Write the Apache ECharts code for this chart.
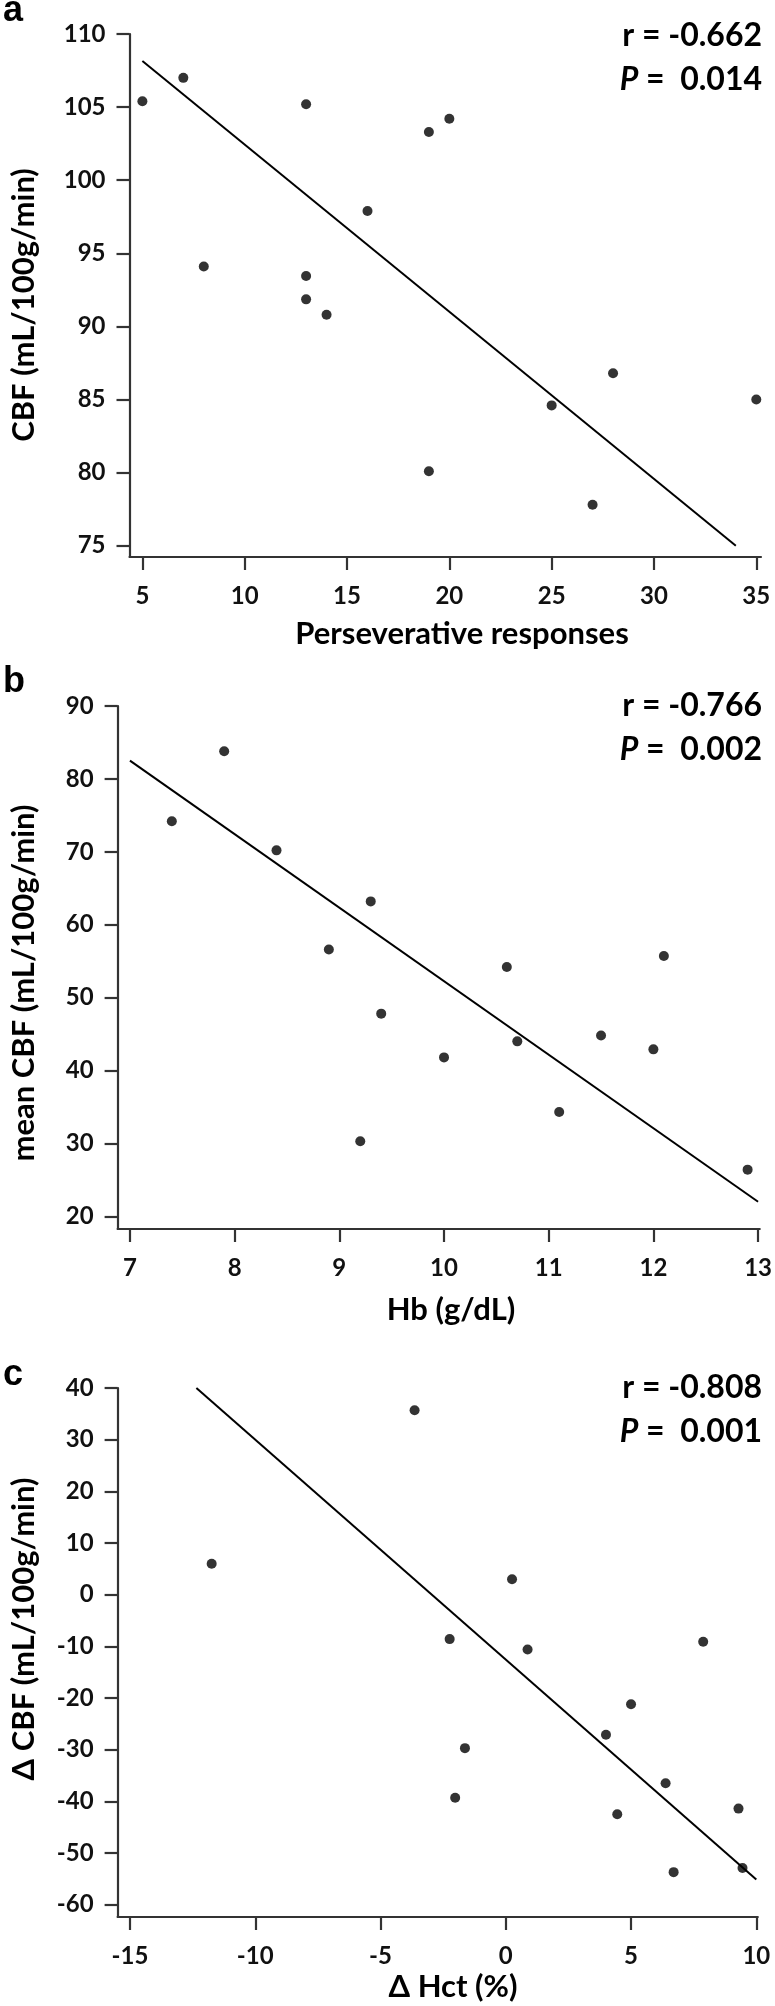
<!DOCTYPE html>
<html>
<head>
<meta charset="utf-8">
<script src="https://cdn.jsdelivr.net/npm/echarts@6/dist/echarts.min.js"></script>
<style>
html,body{margin:0;padding:0;background:#fff;}
#chart{width:775px;height:2006px;}
</style>
</head>
<body>
<div id="chart"></div>
<script>
// Panel a: Perseverative responses vs CBF
const xA = [5, 7, 8, 13, 13, 13, 14, 16, 19, 20, 25, 28, 35, 19, 27];
const yA = [105.4, 107.0, 94.1, 105.2, 93.45, 91.85, 90.8, 97.9, 103.3, 104.2, 84.6, 86.8, 85.0, 80.1, 77.8];
const fitXA = [5, 34];
const fitYA = [108.15, 75.0];
const ticksXA = [5, 10, 15, 20, 25, 30, 35];
const ticksYA = [75, 80, 85, 90, 95, 100, 105, 110];

// Panel b: Hb vs mean CBF
const xB = [7.4, 7.9, 8.4, 8.9, 9.3, 9.4, 10.0, 10.6, 10.7, 11.5, 12.0, 12.1, 9.2, 11.1, 12.9];
const yB = [74.2, 83.8, 70.2, 56.6, 63.2, 47.8, 41.8, 54.2, 44.0, 44.8, 42.9, 55.7, 30.3, 34.3, 26.4];
const fitXB = [7, 13];
const fitYB = [82.5, 22.0];
const ticksXB = [7, 8, 9, 10, 11, 12, 13];
const ticksYB = [20, 30, 40, 50, 60, 70, 80, 90];

// Panel c: Δ Hct vs Δ CBF
const xC = [-11.74, -3.64, 0.25, -2.24, 0.87, 7.88, 5.0, 4.0, -1.63, -2.02, 6.38, 4.45, 9.29, 6.70, 9.45];
const yC = [6.0, 35.7, 3.0, -8.6, -10.6, -9.1, -21.2, -27.1, -29.7, -39.3, -36.5, -42.5, -41.4, -53.7, -52.9];
const fitXC = [-12.35, 10.0];
const fitYC = [40, -55.1];
const ticksXC = [-15, -10, -5, 0, 5, 10];
const ticksYC = [-60, -50, -40, -30, -20, -10, 0, 10, 20, 30, 40];

const labelsText = ['a', 'b', 'c'];
const statR = ['r = -0.662', 'r = -0.766', 'r = -0.808'];
const statP = ['0.014', '0.002', '0.001'];
const xTitles = ['Perseverative responses', 'Hb (g/dL)', 'Δ Hct (%)'];
const yTitles = ['CBF (mL/100g/min)', 'mean CBF (mL/100g/min)', 'Δ CBF (mL/100g/min)'];

const FONT = 'Lato, "Open Sans", sans-serif';
const AX = '#333';

function zip(xs, ys) { return xs.map((x, i) => [x, ys[i]]); }

function xAxisCfg(idx, min, max, ticks) {
  return {
    type: 'value', gridIndex: idx, min: min, max: max,
    splitLine: {show: false},
    axisLine: {show: true, onZero: false, lineStyle: {color: AX, width: 2.2}},
    axisTick: {show: true, length: 13, customValues: ticks, lineStyle: {color: AX, width: 2.2}},
    axisLabel: {show: true, customValues: ticks, margin: 27, color: '#111', fontFamily: FONT, fontWeight: 'bold', fontSize: 24}
  };
}
function yAxisCfg(idx, min, max, ticks) {
  return {
    type: 'value', gridIndex: idx, min: min, max: max,
    splitLine: {show: false},
    axisLine: {show: true, onZero: false, lineStyle: {color: AX, width: 2.2}},
    axisTick: {show: true, length: 13, customValues: ticks, lineStyle: {color: AX, width: 2.2}},
    axisLabel: {show: true, customValues: ticks, margin: 24, color: '#111', fontFamily: FONT, fontWeight: 'bold', fontSize: 24}
  };
}
function scatter(idx, xs, ys) {
  return {type: 'scatter', xAxisIndex: idx, yAxisIndex: idx, data: zip(xs, ys),
    symbol: 'circle', symbolSize: 10, itemStyle: {color: '#000'}, silent: true, z: 3};
}
function fit(idx, xs, ys) {
  return {type: 'line', xAxisIndex: idx, yAxisIndex: idx, data: zip(xs, ys),
    symbol: 'none', lineStyle: {color: '#000', width: 2}, silent: true, z: 2};
}

const grids = [
  {left: 129.5, top: 34, width: 631.5, height: 523},
  {left: 117.6, top: 706, width: 643.4, height: 523},
  {left: 117.6, top: 1388, width: 640.2, height: 529}
];

const letterY = [29, 700, 1393];
const rY = [36, 706, 1388];
const xTitlePos = [[462, 634], [451, 1310], [453, 1987]];
const yTitlePos = [[24, 305], [24, 983], [24, 1629]];

const graphic = [];
for (let i = 0; i < 3; i++) {
  graphic.push({type: 'text', x: 3, y: letterY[i], style: {text: labelsText[i], fill: '#000',
    font: 'bold 36px "Liberation Sans", Arial, sans-serif', textAlign: 'left', textVerticalAlign: 'bottom'}});
  graphic.push({type: 'text', x: 762, y: rY[i], style: {text: statR[i], fill: '#000',
    font: 'bold 32px ' + FONT, textAlign: 'right', textVerticalAlign: 'middle'}});
  graphic.push({type: 'text', x: 762, y: rY[i] + 44, style: {
    text: '{p|P}{n| =  ' + statP[i] + '}', fill: '#000', textAlign: 'right', textVerticalAlign: 'middle',
    rich: {p: {font: 'italic bold 32px ' + FONT, fill: '#000'}, n: {font: 'bold 32px ' + FONT, fill: '#000'}}}});
  graphic.push({type: 'text', x: xTitlePos[i][0], y: xTitlePos[i][1], style: {text: xTitles[i], fill: '#000',
    font: 'bold 31px ' + FONT, textAlign: 'center', textVerticalAlign: 'middle'}});
  graphic.push({type: 'text', x: yTitlePos[i][0], y: yTitlePos[i][1], rotation: Math.PI / 2,
    style: {text: yTitles[i], fill: '#000', font: 'bold 31px ' + FONT, textAlign: 'center', textVerticalAlign: 'middle'}});
}

const option = {
  animation: false,
  backgroundColor: '#fff',
  grid: grids,
  xAxis: [
    xAxisCfg(0, 4.37, 35.23, ticksXA),
    xAxisCfg(1, 6.882, 13.016, ticksXB),
    xAxisCfg(2, -15.495, 10.06, ticksXC)
  ],
  yAxis: [
    yAxisCfg(0, 74.23, 110, ticksYA),
    yAxisCfg(1, 18.26, 90, ticksYB),
    yAxisCfg(2, -62.38, 40, ticksYC)
  ],
  series: [
    fit(0, fitXA, fitYA), scatter(0, xA, yA),
    fit(1, fitXB, fitYB), scatter(1, xB, yB),
    fit(2, fitXC, fitYC), scatter(2, xC, yC)
  ],
  graphic: graphic
};

const chart = echarts.init(document.getElementById('chart'), null, {renderer: 'canvas'});
chart.setOption(option);
</script>
</body>
</html>
